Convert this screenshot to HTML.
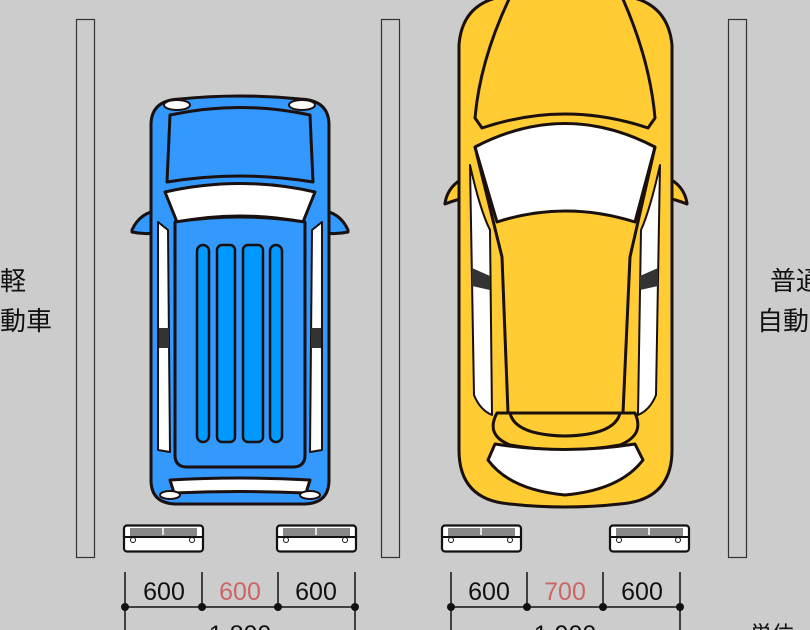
<!DOCTYPE html>
<html><head><meta charset="utf-8"><style>
html,body{margin:0;padding:0;background:#cccccc;}
svg{display:block;}
text{font-family:"Liberation Sans","Noto Sans CJK JP",sans-serif;}
</style></head><body>
<svg width="810" height="630" viewBox="0 0 810 630" xmlns="http://www.w3.org/2000/svg">
<rect width="810" height="630" fill="#cccccc"/>
<!-- pillars -->
<g fill="#cccccc" stroke="#333" stroke-width="1.2">
<rect x="76.5" y="19.5" width="18" height="538"/>
<rect x="381.5" y="19.5" width="18" height="538"/>
<rect x="728.5" y="19.5" width="18" height="538"/>
</g>
<!-- labels -->
<g font-size="26" fill="#111" text-anchor="middle">
<text x="13" y="290">軽</text>
<text x="13" y="330">自動車</text>
<text x="796" y="290">普通</text>
<text x="796" y="330">自動車</text>
</g>

<!-- blue car -->
<g stroke="#1a1010" stroke-width="3" stroke-linejoin="round">
<path d="M132,230 Q140,212 160,210 L168,230 Q150,236 132,232 Z" fill="#3399ff"/>
<path d="M348,230 Q340,212 320,210 L312,230 Q330,236 348,232 Z" fill="#3399ff"/>
<path d="M151,125 Q151,100 180,99 Q240,93 300,99 Q329,100 329,125 L329,480 Q329,503 305,504 L175,504 Q151,503 151,480 Z" fill="#3399ff"/>
<path d="M170,115 Q240,100 310,115 L313,182 Q240,170 167,182 Z" fill="#3399ff"/>
<path d="M165,192 Q240,175 315,192 L303,222 Q240,210 177,222 Z" fill="#ffffff"/>
<path d="M175,222 Q240,212 305,222 L305,455 Q305,467 293,467 L187,467 Q175,467 175,455 Z" fill="#3399ff"/>
<path d="M158,222 L168,230 L170,452 L158,450 Z" fill="#ffffff" stroke-width="2"/>
<path d="M322,222 L312,230 L310,452 L322,450 Z" fill="#ffffff" stroke-width="2"/>
<path d="M170,480 Q240,476 310,480 L306,493 Q240,490 174,493 Z" fill="#ffffff"/>
<ellipse cx="177" cy="105" rx="13" ry="5" fill="#fff" stroke-width="2"/>
<ellipse cx="302" cy="105" rx="13" ry="5" fill="#fff" stroke-width="2"/>
<ellipse cx="170" cy="495" rx="10" ry="4" fill="#fff" stroke-width="2"/>
<ellipse cx="310" cy="495" rx="10" ry="4" fill="#fff" stroke-width="2"/>
<g fill="#0099ff" stroke-width="2.5">
<rect x="197" y="245" width="12" height="197" rx="6"/>
<rect x="217" y="245" width="18" height="197" rx="5"/>
<rect x="243" y="245" width="20" height="197" rx="5"/>
<rect x="270" y="245" width="12" height="197" rx="6"/>
</g>
</g>
<rect x="159" y="328" width="10" height="20" fill="#333"/>
<rect x="311" y="328" width="10" height="20" fill="#333"/>

<!-- yellow car -->
<g stroke="#1a1010" stroke-width="3" stroke-linejoin="round">
<path d="M445,203 Q448,185 466,177 L468,197 Q455,200 445,204 Z" fill="#ffcc33"/>
<path d="M687,203 Q684,185 666,177 L664,197 Q677,200 687,204 Z" fill="#ffcc33"/>
<path d="M459,45 Q462,5 500,-3 L630,-3 Q668,5 672,45 L672,450 Q672,500 620,504 Q565,510 510,504 Q459,500 459,450 Z" fill="#ffcc33"/>
<path d="M510,-3 Q480,60 475,118 L482,128 Q565,100 648,128 L655,118 Q650,60 622,-3" fill="none"/>
<path d="M475,147 Q565,100 655,147 L635,222 Q565,200 497,222 Z" fill="#ffffff"/>
<path d="M475,147 L502,257 L508,413 M655,147 L630,257 L623,413" fill="none"/>
<path d="M470,165 Q480,210 490,230 L492,415 Q480,410 474,395 Z" fill="#ffffff" stroke-width="2"/>
<path d="M660,165 Q650,210 641,230 L638,415 Q650,410 656,395 Z" fill="#ffffff" stroke-width="2"/>
<path d="M497,413 L635,413 Q645,435 620,445 Q565,455 510,445 Q485,435 497,413 Z" fill="#ffcc33"/>
<path d="M510,413 Q515,435 565,436 Q615,435 620,413" fill="none"/>
<path d="M495,444 Q565,455 635,444 L643,460 Q620,490 565,495 Q510,490 488,460 Z" fill="#ffffff"/>
</g>
<g fill="#333">
<path d="M472,268 L490,276 L490,290 L472,286 Z"/>
<path d="M658,268 L640,276 L640,290 L658,286 Z"/>
</g>

<!-- plates -->
<g id="plate">
<rect x="124" y="525.5" width="79" height="26" rx="3" fill="#fff" stroke="#111" stroke-width="2.2"/>
<rect x="130" y="528" width="67" height="8" fill="#888"/>
<line x1="124" y1="537" x2="203" y2="537" stroke="#111" stroke-width="2"/>
<line x1="163" y1="527" x2="163" y2="535" stroke="#fff" stroke-width="1.5"/>
<circle cx="133" cy="540" r="2.5" fill="none" stroke="#111"/>
<circle cx="192" cy="540" r="2.5" fill="none" stroke="#111"/>
</g>
<use href="#plate" x="153"/>
<use href="#plate" x="318"/>
<use href="#plate" x="486"/>

<!-- dimensions -->
<g stroke="#111" stroke-width="1.5">
<line x1="125" y1="572" x2="125" y2="630"/><line x1="202" y1="572" x2="202" y2="607"/>
<line x1="278" y1="572" x2="278" y2="607"/><line x1="355" y1="572" x2="355" y2="630"/>
<line x1="125" y1="607" x2="355" y2="607"/>
<line x1="451" y1="572" x2="451" y2="630"/><line x1="527" y1="572" x2="527" y2="607"/>
<line x1="603" y1="572" x2="603" y2="607"/><line x1="680" y1="572" x2="680" y2="630"/>
<line x1="451" y1="607" x2="680" y2="607"/>
</g>
<g fill="#111">
<circle cx="125" cy="607" r="4"/><circle cx="202" cy="607" r="4"/><circle cx="278" cy="607" r="4"/><circle cx="355" cy="607" r="4"/>
<circle cx="451" cy="607" r="4"/><circle cx="527" cy="607" r="4"/><circle cx="603" cy="607" r="4"/><circle cx="680" cy="607" r="4"/>
</g>
<g font-size="25" text-anchor="middle" fill="#111">
<text x="164" y="600">600</text><text x="240" y="600" fill="#cc6666">600</text><text x="316" y="600">600</text>
<text x="489" y="600">600</text><text x="565" y="600" fill="#cc6666">700</text><text x="642" y="600">600</text>
<text x="240" y="643">1,800</text><text x="565" y="643">1,900</text>
</g>
<text x="750" y="642" font-size="22" fill="#111">単位</text>
</svg>
</body></html>
